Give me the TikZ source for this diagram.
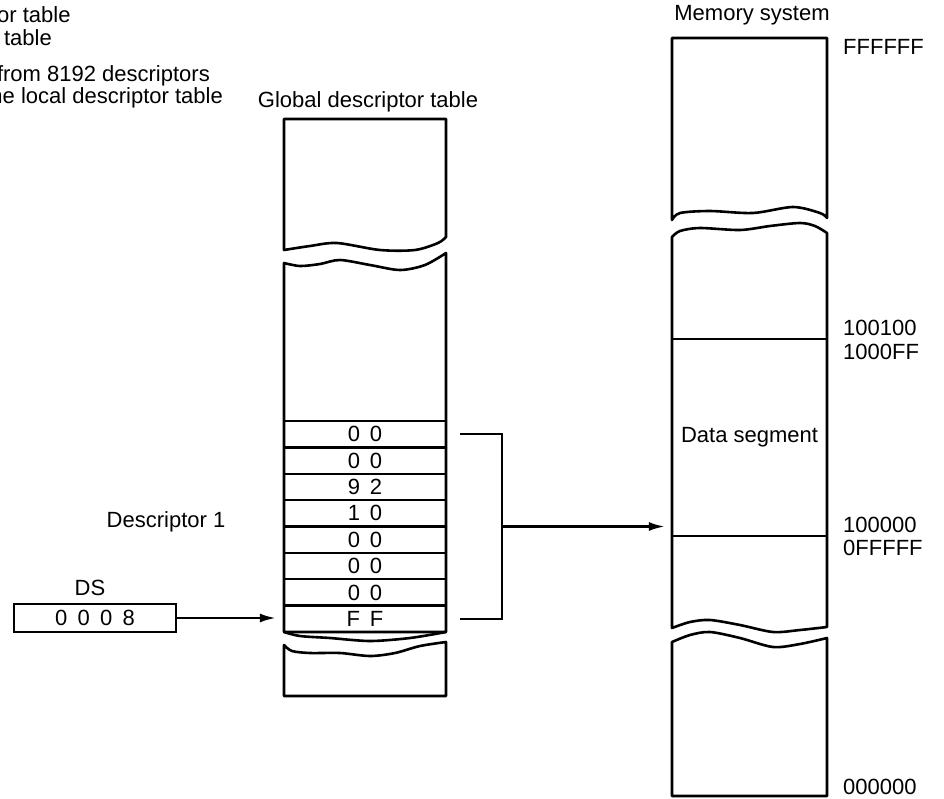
\documentclass[tikz,border=0pt]{standalone}
\usepackage{fontspec}
\setmainfont{Liberation Sans}
\usetikzlibrary{arrows.meta,calc}
\newcommand{\digpair}[2]{#1\hspace{0.45em}#2}
\begin{document}
\begin{tikzpicture}[x=1pt,y=-1pt,
  every node/.style={font=\fontsize{22}{26}\selectfont, inner sep=0pt},
  outline/.style={line width=2.6pt, line join=round},
  row/.style={draw, line width=2.3pt, minimum width=162pt, minimum height=26.375pt},
  link/.style={line width=2.4pt},
  arr/.style={line width=2.4pt, -{Latex[length=16pt,width=9pt]}},
]
\useasboundingbox (0,0) rectangle (944,798);

% explanatory text at the upper left
\node[anchor=west] (t1) at (-3,15) {or table};
\node[anchor=east] (t2) at (52,38) {table};
\node[anchor=east] (t3) at (210,76) {from 8192 descriptors};
\node[anchor=east] (t4) at (223,98) {he local descriptor table};

% ---------- global descriptor table ----------
\node (gdtT) at (368,102) {Global descriptor table};
% upper torn piece
\draw[outline] (284,250) -- (284,119) -- (446,119) -- (446,237)
  -- plot[smooth] coordinates {(446,237) (438,243) (415,250) (380,250) (337,243) (310,246) (284,250)} -- cycle;
% middle piece holding the descriptor bytes
\draw[outline] plot[smooth] coordinates {(284,263) (300,266) (320,264) (340,260) (370,265) (400,270) (425,265) (446,253)}
  -- (446,632) -- (284,632) -- cycle;
\draw[outline] plot[smooth] coordinates {(284,632) (300,636) (330,638) (370,641) (410,638) (446,632)};
% lower torn piece
\draw[outline] plot[smooth] coordinates {(284,645) (292,651) (310,653) (340,653) (370,656) (395,653) (420,646) (446,642)}
  -- (446,696) -- (284,696) -- cycle;

% descriptor bytes
\foreach \a/\b [count=\i] in {0/0,0/0,9/2,1/0,0/0,0/0,0/0,F/F}
  \node[row] (r\i) at (365,{421+13.1875+(\i-1)*26.375}) {\digpair{\a}{\b}};

\node (desc) at (166,522) {Descriptor 1};

% ---------- DS register ----------
\node (dsT) at (90,588) {DS};
\node[draw, line width=2.4pt, minimum width=162pt, minimum height=28pt] (dsreg) at (95,618)
  {0\hspace{0.47em}0\hspace{0.47em}0\hspace{0.47em}8};
\draw[arr, shorten >=7pt] (dsreg.east) -- (dsreg.east -| r8.west);

% ---------- memory system ----------
\node (memT) at (752,15) {Memory system};
\draw[outline] (672,220) -- (672,38) -- (827,38) -- (827,218)
  -- plot[smooth] coordinates {(827,218) (820,213) (793,207) (753,213) (710,211) (680,213) (672,220)} -- cycle;
\draw[outline] plot[smooth] coordinates {(672,237) (680,231) (700,228) (740,230) (770,226) (800,223) (815,226) (827,233)}
  -- (827,627)
  -- plot[smooth] coordinates {(827,627) (800,630) (773,632) (740,625) (710,620) (690,622) (672,628)} -- cycle;
\draw[outline] plot[smooth] coordinates {(672,642) (690,635) (710,632) (740,638) (773,647) (800,644) (827,638)}
  -- (827,796) -- (672,796) -- cycle;
\node[draw, line width=2.3pt, minimum width=155pt, minimum height=197pt] (seg) at (749.5,437.5) {Data segment};

% addresses
\node[anchor=west] (aTop) at (843,47) {FFFFFF};
\node[anchor=west] (aHi1) at (843,328) {100100};
\node[anchor=west] (aHi2) at (843,352) {1000FF};
\node[anchor=west] (aLo1) at (843,525) {100000};
\node[anchor=west] (aLo2) at (843,548) {0FFFFF};
\node[anchor=west] (aBot) at (843,787) {000000};

% bracket gathering the descriptor and pointing at the segment
\draw[link] ([xshift=13pt]r1.east) -- ([xshift=55pt]r1.east) -- ([xshift=55pt]r8.east) -- ([xshift=13pt]r8.east);
\coordinate (bk) at ($([xshift=55pt]r1.east)!0.5!([xshift=55pt]r8.east)$);
\draw[arr, shorten >=6pt] (bk) -- (bk -| seg.west);
\end{tikzpicture}
\end{document}
